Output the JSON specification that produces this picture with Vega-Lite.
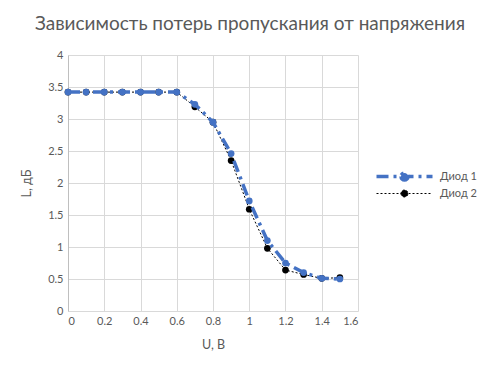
{
  "$schema": "https://vega.github.io/schema/vega-lite/v6.json",
  "autosize": "none",
  "width": 290,
  "height": 256,
  "padding": {"left": 68, "top": 55, "right": 135, "bottom": 61},
  "background": "white",
  "title": {
    "text": "Зависимость потерь пропускания от напряжения",
    "font": "Lato",
    "fontSize": 19,
    "fontWeight": "normal",
    "color": "#595959",
    "anchor": "middle",
    "dx": 37,
    "offset": 15
  },
  "config": {
    "font": "Lato",
    "view": {"stroke": null},
    "axis": {
      "labelColor": "#595959",
      "labelFontSize": 11,
      "titleColor": "#595959",
      "titleFontSize": 12.5,
      "titleFontWeight": "normal",
      "gridColor": "#d9d9d9",
      "domainColor": "#bfbfbf",
      "ticks": false
    }
  },
  "data": {
    "values": [
      {"series": "Диод 1", "U": 0.0, "L": 3.42},
      {"series": "Диод 1", "U": 0.1, "L": 3.42},
      {"series": "Диод 1", "U": 0.2, "L": 3.42},
      {"series": "Диод 1", "U": 0.3, "L": 3.42},
      {"series": "Диод 1", "U": 0.4, "L": 3.42},
      {"series": "Диод 1", "U": 0.5, "L": 3.42},
      {"series": "Диод 1", "U": 0.6, "L": 3.42},
      {"series": "Диод 1", "U": 0.7, "L": 3.23},
      {"series": "Диод 1", "U": 0.8, "L": 2.95},
      {"series": "Диод 1", "U": 0.9, "L": 2.46},
      {"series": "Диод 1", "U": 1.0, "L": 1.72},
      {"series": "Диод 1", "U": 1.1, "L": 1.10},
      {"series": "Диод 1", "U": 1.2, "L": 0.75},
      {"series": "Диод 1", "U": 1.3, "L": 0.60},
      {"series": "Диод 1", "U": 1.4, "L": 0.51},
      {"series": "Диод 1", "U": 1.5, "L": 0.50},
      {"series": "Диод 2", "U": 0.0, "L": 3.42},
      {"series": "Диод 2", "U": 0.1, "L": 3.42},
      {"series": "Диод 2", "U": 0.2, "L": 3.42},
      {"series": "Диод 2", "U": 0.3, "L": 3.42},
      {"series": "Диод 2", "U": 0.4, "L": 3.42},
      {"series": "Диод 2", "U": 0.5, "L": 3.42},
      {"series": "Диод 2", "U": 0.6, "L": 3.42},
      {"series": "Диод 2", "U": 0.7, "L": 3.19},
      {"series": "Диод 2", "U": 0.8, "L": 2.95},
      {"series": "Диод 2", "U": 0.9, "L": 2.35},
      {"series": "Диод 2", "U": 1.0, "L": 1.59},
      {"series": "Диод 2", "U": 1.1, "L": 0.98},
      {"series": "Диод 2", "U": 1.2, "L": 0.64},
      {"series": "Диод 2", "U": 1.3, "L": 0.57},
      {"series": "Диод 2", "U": 1.4, "L": 0.51},
      {"series": "Диод 2", "U": 1.5, "L": 0.52}
    ]
  },
  "encoding": {
    "x": {
      "field": "U", "type": "quantitative",
      "scale": {"domain": [0, 1.6], "nice": false},
      "axis": {"values": [0, 0.2, 0.4, 0.6, 0.8, 1, 1.2, 1.4, 1.6], "format": "~g", "title": "U, В", "titlePadding": 12, "labelPadding": 4, "domain": false}
    },
    "y": {
      "field": "L", "type": "quantitative",
      "scale": {"domain": [0, 4], "nice": false},
      "axis": {"values": [0, 0.5, 1, 1.5, 2, 2.5, 3, 3.5, 4], "format": "~g", "title": "L, дБ", "titlePadding": 14, "labelPadding": 5}
    },
    "color": {
      "field": "series", "type": "nominal",
      "scale": {"domain": ["Диод 1", "Диод 2"], "range": ["#4472C4", "#000000"]},
      "legend": {
        "title": null,
        "orient": "none",
        "legendX": 331,
        "legendY": 116,
        "labelColor": "#595959",
        "labelFontSize": 11,
        "symbolType": "M-4,0H4M-0.5,0A0.5,0.5 0 1,0 0.5,0A0.5,0.5 0 1,0 -0.5,0",
        "symbolSize": 196,
        "labelOffset": 30,
        "rowPadding": 0,
        "encode": {
          "symbols": {
            "update": {
              "strokeDash": {"signal": "datum.value === 'Диод 1' ? [12, 5, 3, 5] : [2, 2]"},
              "strokeWidth": {"signal": "datum.value === 'Диод 1' ? 3.5 : 1"},
              "fill": {"signal": "datum.value === 'Диод 1' ? '#4472C4' : '#000000'"},
              "fillOpacity": {"value": 1}
            }
          }
        }
      }
    }
  },
  "layer": [
    {
      "transform": [{"filter": "datum.series === 'Диод 2'"}],
      "mark": {"type": "line", "strokeWidth": 1, "strokeDash": [2, 2]},
      "encoding": {}
    },
    {
      "transform": [{"filter": "datum.series === 'Диод 2'"}],
      "mark": {"type": "point", "filled": true, "size": 45, "opacity": 1}
    },
    {
      "transform": [{"filter": "datum.series === 'Диод 1'"}],
      "mark": {"type": "line", "strokeWidth": 3.5, "strokeDash": [12, 5, 3, 5]},
      "encoding": {}
    },
    {
      "transform": [{"filter": "datum.series === 'Диод 1'"}],
      "mark": {"type": "point", "filled": true, "size": 45, "opacity": 1}
    }
  ]
}
